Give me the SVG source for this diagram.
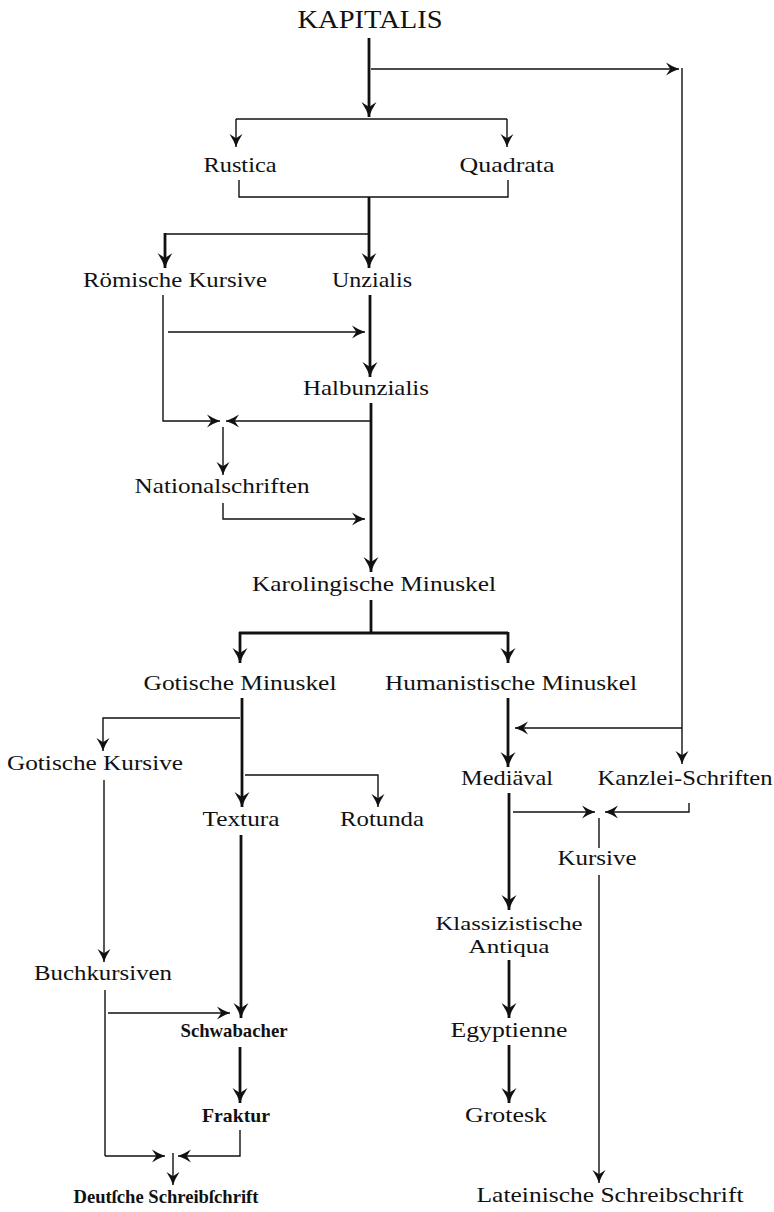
<svg xmlns="http://www.w3.org/2000/svg" width="774" height="1212" viewBox="0 0 774 1212">
<style>
text{font-family:"Liberation Serif","Times New Roman",serif;font-size:22px;fill:#111;text-anchor:middle}
.title{font-size:26px}
.two{font-size:19px}
.frak{font-weight:bold;font-size:19px}
.T{stroke:#111;stroke-width:2.8;fill:none}
.t{stroke:#111;stroke-width:1.4;fill:none}
.a{marker-end:url(#ah)}
.as{marker-end:url(#as)}
</style>
<defs>
<marker id="ah" markerUnits="userSpaceOnUse" markerWidth="18" markerHeight="18" refX="15" refY="7.5" orient="auto" overflow="visible">
<path d="M0,0 Q7.5,5 15,7.5 Q7.5,10 0,15 L5,7.5 Z" fill="#111"/>
</marker>
<marker id="as" markerUnits="userSpaceOnUse" markerWidth="16" markerHeight="16" refX="13" refY="6.5" orient="auto" overflow="visible">
<path d="M0,0 Q6.5,4.3 13,6.5 Q6.5,8.7 0,13 L4.3,6.5 Z" fill="#111"/>
</marker>
</defs>
<rect width="774" height="1212" fill="#fff"/>
<g id="connectors">
<path class="T a" d="M369,38 V117"/>
<path class="t as" d="M371,69 H679"/>
<path class="t as" d="M682,68 V764"/>
<path class="t" d="M236,119 H507"/>
<path class="t as" d="M236,119 V147"/>
<path class="t as" d="M507,119 V147"/>
<path class="t" d="M239,180 V197 H508 V180"/>
<path class="T a" d="M369,197 V268"/>
<path class="t" d="M368,234 H165"/>
<path class="T a" d="M165,233 V268"/>
<path class="t as" d="M163,295 V421 H220"/>
<path class="t as" d="M168,332 H365"/>
<path class="T a" d="M370,295 V377"/>
<path class="T a" d="M371,403 V572"/>
<path class="t as" d="M370,421 H226"/>
<path class="t as" d="M223,427 V475"/>
<path class="t as" d="M223,503 V519 H365"/>
<path class="T" d="M371,600 V633"/>
<path class="T" d="M239,633 H508"/>
<path class="T a" d="M240,632 V663"/>
<path class="T a" d="M508,632 V663"/>
<path class="T a" d="M242,698 V807"/>
<path class="t as" d="M240,718 H103 V751"/>
<path class="t as" d="M245,775 H378 V807"/>
<path class="t as" d="M104,780 V962"/>
<path class="T a" d="M241,835 V1018"/>
<path class="t" d="M105,990 V1156"/>
<path class="t as" d="M105,1156 H165"/>
<path class="t as" d="M108,1013 H230"/>
<path class="T a" d="M240,1047 V1103"/>
<path class="t as" d="M240,1130 V1156 H178"/>
<path class="t as" d="M173,1153 V1185"/>
<path class="T a" d="M508,698 V767"/>
<path class="t as" d="M682,728 H515"/>
<path class="T a" d="M509,793 V910"/>
<path class="t as" d="M513,812 H595"/>
<path class="t as" d="M689,803 V812 H605"/>
<path class="t" d="M599,818 V848"/>
<path class="t as" d="M599,875 V1183"/>
<path class="T a" d="M509,960 V1018"/>
<path class="T a" d="M509,1045 V1103"/>
</g>
<g id="kapitalis"><text class="title" x="370" y="28" textLength="145" lengthAdjust="spacingAndGlyphs">KAPITALIS</text></g>
<g id="rustica"><text x="240" y="172" textLength="73" lengthAdjust="spacingAndGlyphs">Rustica</text></g>
<g id="quadrata"><text x="507" y="172" textLength="95" lengthAdjust="spacingAndGlyphs">Quadrata</text></g>
<g id="roemische-kursive"><text x="175" y="287" textLength="184" lengthAdjust="spacingAndGlyphs">Römische Kursive</text></g>
<g id="unzialis"><text x="372" y="287" textLength="80" lengthAdjust="spacingAndGlyphs">Unzialis</text></g>
<g id="halbunzialis"><text x="366" y="395" textLength="126" lengthAdjust="spacingAndGlyphs">Halbunzialis</text></g>
<g id="nationalschriften"><text x="222" y="493" textLength="175" lengthAdjust="spacingAndGlyphs">Nationalschriften</text></g>
<g id="karolingische-minuskel"><text x="374" y="591" textLength="244" lengthAdjust="spacingAndGlyphs">Karolingische Minuskel</text></g>
<g id="gotische-minuskel"><text x="240" y="690" textLength="193" lengthAdjust="spacingAndGlyphs">Gotische Minuskel</text></g>
<g id="humanistische-minuskel"><text x="511" y="690" textLength="252" lengthAdjust="spacingAndGlyphs">Humanistische Minuskel</text></g>
<g id="gotische-kursive"><text x="95" y="770" textLength="176" lengthAdjust="spacingAndGlyphs">Gotische Kursive</text></g>
<g id="mediaeval"><text x="507" y="785" textLength="92" lengthAdjust="spacingAndGlyphs">Mediäval</text></g>
<g id="kanzlei-schriften"><text x="685" y="785" textLength="175" lengthAdjust="spacingAndGlyphs">Kanzlei-Schriften</text></g>
<g id="textura"><text x="241" y="826" textLength="77" lengthAdjust="spacingAndGlyphs">Textura</text></g>
<g id="rotunda"><text x="382" y="826" textLength="84" lengthAdjust="spacingAndGlyphs">Rotunda</text></g>
<g id="kursive"><text x="597" y="865" textLength="79" lengthAdjust="spacingAndGlyphs">Kursive</text></g>
<g id="klassizistische-antiqua"><text class="two" x="509" y="930" textLength="147" lengthAdjust="spacingAndGlyphs">Klassizistische</text><text class="two" x="509" y="953" textLength="81" lengthAdjust="spacingAndGlyphs">Antiqua</text></g>
<g id="buchkursiven"><text x="103" y="980" textLength="138" lengthAdjust="spacingAndGlyphs">Buchkursiven</text></g>
<g id="schwabacher"><text class="frak" x="234" y="1037" textLength="107" lengthAdjust="spacingAndGlyphs">Schwabacher</text></g>
<g id="egyptienne"><text x="509" y="1037" textLength="117" lengthAdjust="spacingAndGlyphs">Egyptienne</text></g>
<g id="fraktur"><text class="frak" x="236" y="1122" textLength="68" lengthAdjust="spacingAndGlyphs">Fraktur</text></g>
<g id="grotesk"><text x="506" y="1122" textLength="82" lengthAdjust="spacingAndGlyphs">Grotesk</text></g>
<g id="deutsche-schreibschrift"><text class="frak" x="166" y="1203" textLength="185" lengthAdjust="spacingAndGlyphs">Deutſche Schreibſchrift</text></g>
<g id="lateinische-schreibschrift"><text x="610" y="1202" textLength="267" lengthAdjust="spacingAndGlyphs">Lateinische Schreibschrift</text></g>
</svg>
